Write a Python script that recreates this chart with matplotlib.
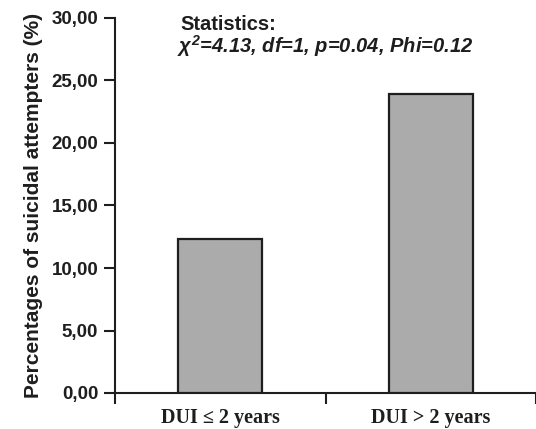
import matplotlib.pyplot as plt
from matplotlib.ticker import FixedLocator

# ---------------------------------------------------------
# Datos
# ---------------------------------------------------------

categories = ["DUI \u2264 2 years", "DUI > 2 years"]
percentages = [12.3, 23.9]
y_ticks = [0, 5, 10, 15, 20, 25, 30]

plt.rcParams["mathtext.fontset"] = "custom"
plt.rcParams["mathtext.it"] = "Liberation Sans:italic:bold"
plt.rcParams["mathtext.rm"] = "Liberation Sans:italic:bold"
plt.rcParams["mathtext.bf"] = "Liberation Sans:italic:bold"

INK = "#1e1e1e"

# ---------------------------------------------------------
# Figura
# ---------------------------------------------------------

fig = plt.figure(figsize=(5.36, 4.29), dpi=100)
ax = fig.add_axes([115 / 536, 1 - 393 / 429, 1 - 115 / 536, (393 - 18) / 429])

x = list(range(len(categories)))

ax.bar(
    x,
    percentages,
    width=0.40,
    color="#ababab",
    edgecolor=INK,
    linewidth=1.6,
    zorder=3
)

ax.set_xlim(-0.5, 1.5)
ax.set_ylim(0, 30)

# Ejes
for side in ("top", "right"):
    ax.spines[side].set_visible(False)
for side in ("left", "bottom"):
    ax.spines[side].set_linewidth(1.5)
    ax.spines[side].set_color(INK)

ax.set_yticks(y_ticks)
ax.set_yticklabels([f"{v:.2f}".replace(".", ",") for v in y_ticks])
ax.tick_params(axis="y", direction="out", length=8, width=1.5,
               color=INK, pad=4)
for lab in ax.get_yticklabels():
    lab.set_fontfamily("Liberation Sans")
    lab.set_fontweight("bold")
    lab.set_fontsize(13.5)
    lab.set_color(INK)

ax.xaxis.set_major_locator(FixedLocator([-0.5, 0.5, 1.5]))
ax.xaxis.set_minor_locator(FixedLocator(x))
ax.set_xticklabels([], minor=False)
ax.set_xticklabels(categories, minor=True)
ax.tick_params(axis="x", which="major", direction="out", length=8,
               width=1.5, color=INK)
ax.tick_params(axis="x", which="minor", length=0, pad=11)
for lab in ax.get_xticklabels(minor=True):
    lab.set_fontfamily("Liberation Serif")
    lab.set_fontweight("bold")
    lab.set_fontsize(14.5)
    lab.set_color(INK)

ax.set_ylabel(
    "Percentages of suicidal attempters (%)",
    fontfamily="Liberation Sans",
    fontweight="bold",
    fontsize=15,
    color=INK,
    labelpad=6
)

# Estadística
fig.text(180 / 536, 1 - 30 / 429, "Statistics:",
         fontfamily="Liberation Sans", fontweight="bold", fontsize=14.5,
         color=INK, va="baseline")
fig.text(177 / 536, 1 - 53 / 429,
         r"$\chi^{2}$=4.13, df=1, p=0.04, Phi=0.12",
         fontfamily="Liberation Sans", fontweight="bold", style="italic",
         fontsize=14.5, color=INK, va="baseline")

fig.savefig("out.png", dpi=100)
